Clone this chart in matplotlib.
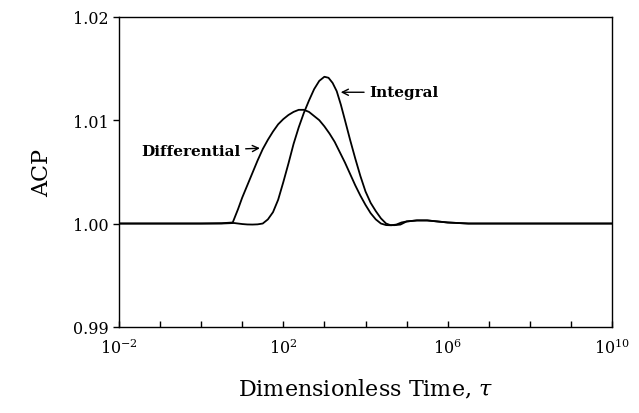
import numpy as np
import matplotlib
matplotlib.use('Agg')
import matplotlib.pyplot as plt
from matplotlib.ticker import NullFormatter

# values (log10 of tau, ACP)
diff_logtau = [-2.0, 0.0, 0.5, 0.77, 0.9, 1.0, 1.125, 1.25, 1.375, 1.5, 1.625, 1.75,
               1.875, 2.0, 2.125, 2.25, 2.375, 2.5, 2.625, 2.75, 2.875, 3.0, 3.125,
               3.25, 3.375, 3.5, 3.625, 3.75, 3.875, 4.0, 4.125, 4.25, 4.375, 4.5,
               4.625, 4.75, 4.875, 5.0, 5.25, 5.5, 5.75, 6.0, 6.5, 10.0]
diff_acp = [1.0000, 1.0000, 1.00003, 1.0001, 1.0014, 1.0025, 1.0037, 1.0049, 1.0061,
            1.0072, 1.0081, 1.0089, 1.0096, 1.0101, 1.0105, 1.0108, 1.0110, 1.0110,
            1.0108, 1.0104, 1.0100, 1.0094, 1.0087, 1.0079, 1.0069, 1.0059, 1.0048,
            1.0037, 1.0027, 1.0018, 1.0010, 1.0004, 1.0000, 0.99985, 0.99983, 0.9999,
            1.0001, 1.0002, 1.0003, 1.0003, 1.0002, 1.0001, 1.0000, 1.0000]

int_logtau = [-2.0, 0.5, 0.8, 1.0, 1.125, 1.25, 1.375, 1.5, 1.625, 1.75, 1.875, 2.0,
              2.125, 2.25, 2.375, 2.5, 2.625, 2.75, 2.875, 3.0, 3.1, 3.2, 3.3, 3.4,
              3.5, 3.625, 3.75, 3.875, 4.0, 4.125, 4.25, 4.375, 4.5, 4.6, 4.7, 4.85,
              5.0, 5.25, 5.5, 5.75, 6.0, 6.5, 10.0]
int_acp = [1.0000, 1.0000, 1.00005, 0.99995, 0.99991, 0.9999, 0.99992, 1.0000, 1.0004,
           1.0011, 1.0023, 1.0040, 1.0058, 1.0077, 1.0093, 1.0107, 1.0119, 1.0130,
           1.0138, 1.0142, 1.0141, 1.0136, 1.0128, 1.0115, 1.0100, 1.0081, 1.0063,
           1.0046, 1.0031, 1.0020, 1.0012, 1.0005, 1.0000, 0.99985, 0.99984, 0.9999,
           1.0002, 1.0003, 1.0003, 1.0002, 1.0001, 1.0000, 1.0000]

xticks = [1e-2, 1e2, 1e6, 1e10]
xticklabels = ['$10^{-2}$', '$10^{2}$', '$10^{6}$', '$10^{10}$']
yticks = [0.99, 1.00, 1.01, 1.02]

plt.rcParams['font.family'] = ['DejaVu Serif']
plt.rcParams['mathtext.fontset'] = 'dejavuserif'

fig = plt.figure(figsize=(6.39, 4.14), dpi=100)
ax = fig.add_axes([0.186, 0.208, 0.772, 0.749])

ax.plot(10 ** np.array(diff_logtau), diff_acp, color='black', lw=1.3)
ax.plot(10 ** np.array(int_logtau), int_acp, color='black', lw=1.3)

ax.set_xscale('log')
ax.set_xlim(1e-2, 1e10)
ax.set_ylim(0.99, 1.02)
ax.set_xticks(xticks)
ax.set_xticklabels(xticklabels)
ax.set_xticks([10.0 ** k for k in range(-2, 11)], minor=True)
ax.xaxis.set_minor_formatter(NullFormatter())
ax.set_yticks(yticks)
ax.set_yticklabels(['%.2f' % v for v in yticks])
ax.tick_params(axis='x', which='both', direction='in', length=4, width=1, top=False, pad=8,
               labelsize=11.5)
ax.tick_params(axis='y', which='both', direction='out', length=4, width=1, right=False,
               labelsize=11.5)
for sp in ax.spines.values():
    sp.set_linewidth(1.0)

ax.set_ylabel('ACP', fontsize=16, labelpad=14)
ax.set_xlabel(r'Dimensionless Time, $\tau$', fontsize=16, labelpad=14)

ax.annotate('Differential', xy=(10 ** 1.5, 1.0073), xytext=(10 ** 0.95, 1.0070),
            ha='right', va='center', fontsize=11, fontweight='bold',
            arrowprops=dict(arrowstyle='->', color='black', lw=1))
ax.annotate('Integral', xy=(10 ** 3.33, 1.0127), xytext=(10 ** 4.1, 1.0127),
            ha='left', va='center', fontsize=11, fontweight='bold',
            arrowprops=dict(arrowstyle='->', color='black', lw=1))

fig.savefig('out.png', dpi=100)
